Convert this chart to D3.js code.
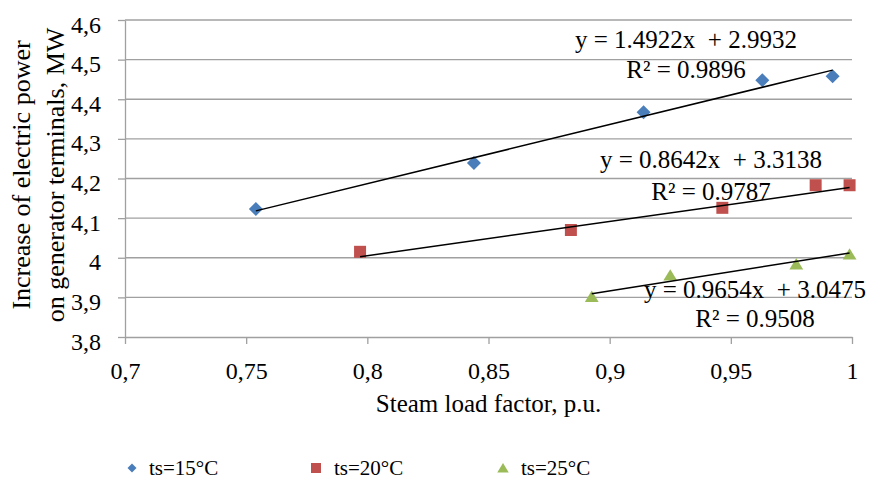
<!DOCTYPE html>
<html>
<head>
<meta charset="utf-8">
<script src="https://cdn.jsdelivr.net/npm/d3@7"></script>
<style>
  body { margin: 0; background: #fff; }
  svg text { font-family: "Liberation Serif", "Times New Roman", serif; fill: #000; }
</style>
</head>
<body>
<div id="chart"></div>
<script>
// data
var x15 = [0.754, 0.844, 0.914, 0.963, 0.992],
    y15 = [4.123, 4.239, 4.367, 4.448, 4.458];
var x20 = [0.797, 0.884, 0.9465, 0.985, 0.999],
    y20 = [4.015, 4.070, 4.126, 4.183, 4.183];
var x25 = [0.8926, 0.925, 0.977, 0.999],
    y25 = [3.902, 3.956, 3.984, 4.009];

var seriesNames = ["ts=15°C", "ts=20°C", "ts=25°C"];
var slopes = [1.4922, 0.8642, 0.9654],
    intercepts = [2.9932, 3.3138, 3.0475];
var eqLabels = ["y = 1.4922x  + 2.9932", "y = 0.8642x  + 3.3138", "y = 0.9654x  + 3.0475"];
var r2Labels = ["R² = 0.9896", "R² = 0.9787", "R² = 0.9508"];

var xTicks = [0.7, 0.75, 0.8, 0.85, 0.9, 0.95, 1],
    yTicks = [3.8, 3.9, 4, 4.1, 4.2, 4.3, 4.4, 4.5, 4.6];

var w = 869, h = 481;
var serif = '"Liberation Serif", "Times New Roman", serif';
var colors = ["#4a7ebb", "#c0504d", "#9bbb59"];
var shapes = ["diamond", "square", "triangle"];

var svg = d3.select("#chart").append("svg")
  .attr("width", w)
  .attr("height", h);

svg.append("rect").attr("width", w).attr("height", h).attr("fill", "#fff");

var x = d3.scaleLinear().domain([0.7, 1]).range([125, 852]);
var y = d3.scaleLinear().domain([3.8, 4.6]).range([337, 20]);

var fmt = function(d) { return String(+d.toFixed(2)).replace(".", ","); };

// horizontal grid
svg.append("g")
  .selectAll("line")
  .data(yTicks.slice(1))
  .enter().append("line")
  .attr("x1", x(0.7)).attr("x2", x(1))
  .attr("y1", function(d) { return y(d); })
  .attr("y2", function(d) { return y(d); })
  .attr("stroke", "#a0a0a0")
  .attr("stroke-width", 1.3);

// y axis
var yAxis = svg.append("g")
  .attr("transform", "translate(" + x(0.7) + ",0)")
  .call(d3.axisLeft(y).tickValues(yTicks).tickFormat(fmt).tickSize(7).tickSizeOuter(0).tickPadding(17));
yAxis.attr("font-family", null).attr("font-size", null);
yAxis.select(".domain").attr("stroke", "#a0a0a0").attr("stroke-width", 1.3);
yAxis.selectAll(".tick line").attr("stroke", "#a0a0a0").attr("stroke-width", 1.3);
yAxis.selectAll(".tick text")
  .style("font-family", serif)
  .style("font-size", "24px")
  .attr("fill", "#000")
  .attr("dy", "0.5em");

// x axis
var xAxis = svg.append("g")
  .attr("transform", "translate(0," + y(3.8) + ")")
  .call(d3.axisBottom(x).tickValues(xTicks).tickFormat(fmt).tickSize(7).tickSizeOuter(0).tickPadding(18));
xAxis.attr("font-family", null).attr("font-size", null);
xAxis.select(".domain").attr("stroke", "#a0a0a0").attr("stroke-width", 1.3);
xAxis.selectAll(".tick line").attr("stroke", "#a0a0a0").attr("stroke-width", 1.3);
xAxis.selectAll(".tick text")
  .style("font-family", serif)
  .style("font-size", "24px")
  .attr("fill", "#000");

// axis titles
svg.append("text")
  .attr("x", (x(0.7) + x(1)) / 2)
  .attr("y", 412)
  .attr("text-anchor", "middle")
  .style("font-size", "25px")
  .text("Steam load factor, p.u.");

var yTitle = svg.append("text")
  .attr("transform", "translate(30,175) rotate(-90)")
  .attr("text-anchor", "middle")
  .style("font-size", "26px");
yTitle.append("tspan").attr("x", 0).attr("y", 0).text("Increase of electric  power");
yTitle.append("tspan").attr("x", 0).attr("y", 34).text("on generator terminals,  MW");

// marker path
var markerPath = function(shape, s) {
  if (shape === "diamond") {
    return "M0," + (-s) + "L" + s + ",0L0," + s + "L" + (-s) + ",0Z";
  } else if (shape === "square") {
    return "M" + (-s) + "," + (-s) + "H" + s + "V" + s + "H" + (-s) + "Z";
  } else {
    return "M0," + (-s) + "L" + (s * 1.15) + "," + (s * 0.9) + "L" + (-s * 1.15) + "," + (s * 0.9) + "Z";
  }
};

var allSeries = [
  { xs: x15, ys: y15 },
  { xs: x20, ys: y20 },
  { xs: x25, ys: y25 }
];

var markerSizes = [7, 6, 6];

allSeries.forEach(function(s, k) {
  var pts = s.xs.map(function(v, i) { return [v, s.ys[i]]; });

  // points
  svg.append("g")
    .selectAll("path")
    .data(pts)
    .enter().append("path")
    .attr("transform", function(d) { return "translate(" + x(d[0]) + "," + y(d[1]) + ")"; })
    .attr("d", markerPath(shapes[k], markerSizes[k]))
    .attr("fill", colors[k]);

  // linear trendline from fitted equation
  var x0 = d3.min(s.xs), x1 = d3.max(s.xs);
  svg.append("line")
    .attr("x1", x(x0)).attr("y1", y(slopes[k] * x0 + intercepts[k]))
    .attr("x2", x(x1)).attr("y2", y(slopes[k] * x1 + intercepts[k]))
    .attr("stroke", "#000")
    .attr("stroke-width", 1.5);
});

// trendline labels
var labelPos = [[686, 48, 78], [711, 168, 200], [755, 298, 327]];
labelPos.forEach(function(p, k) {
  svg.append("text")
    .attr("x", p[0]).attr("y", p[1])
    .attr("text-anchor", "middle")
    .style("font-size", "25px")
    .style("white-space", "pre")
    .text(eqLabels[k]);
  svg.append("text")
    .attr("x", p[0]).attr("y", p[2])
    .attr("text-anchor", "middle")
    .style("font-size", "25px")
    .text(r2Labels[k]);
});

// legend
var legendX = [132, 316, 503];
var legendSizes = [4.5, 5, 5];
var legend = svg.append("g")
  .selectAll("g")
  .data(seriesNames)
  .enter().append("g")
  .attr("transform", function(d, i) { return "translate(" + legendX[i] + ",468)"; });

legend.append("path")
  .attr("d", function(d, i) { return markerPath(shapes[i], legendSizes[i]); })
  .attr("fill", function(d, i) { return colors[i]; });

legend.append("text")
  .attr("x", function(d, i) { return i === 0 ? 17 : 18; })
  .attr("y", 7)
  .style("font-size", "21px")
  .text(function(d) { return d; });
</script>
</body>
</html>
